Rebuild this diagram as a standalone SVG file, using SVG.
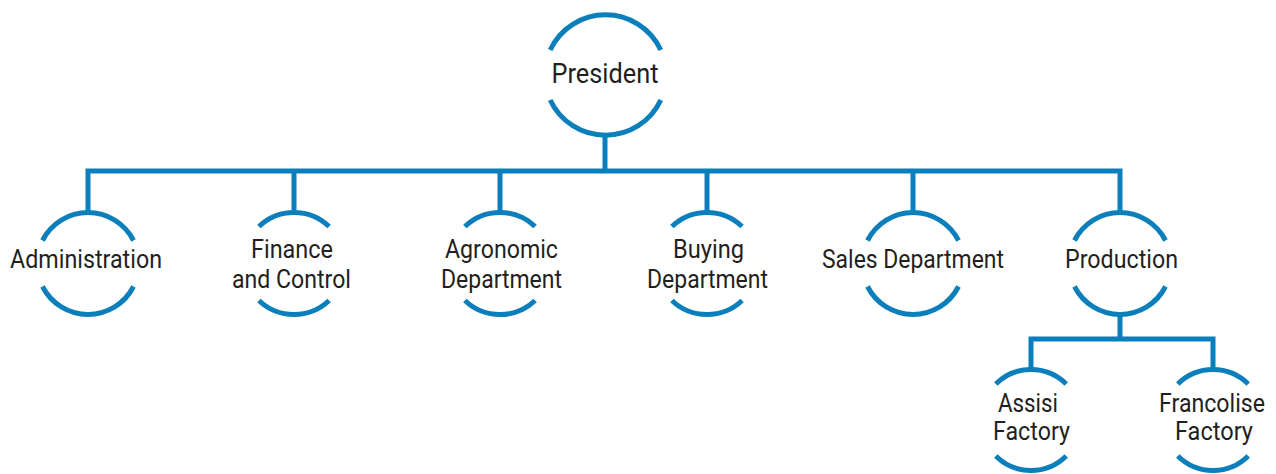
<svg xmlns="http://www.w3.org/2000/svg" width="1276" height="474" viewBox="0 0 1276 474">
<style>
.ring{fill:none;stroke:#0b7fbb;stroke-width:5}
.conn{fill:none;stroke:#0b7fbb;stroke-width:5;stroke-linejoin:miter;stroke-linecap:butt}
text{font-family:Roboto,"Liberation Sans",sans-serif;font-size:25px;fill:#231f20;text-anchor:middle}
.big{font-size:28px}
</style>
<rect width="1276" height="474" fill="#ffffff"/>
<g id="connectors">
<path class="conn" d="M605,136 V171"/>
<path class="conn" d="M88,212 V171 H1120 V212"/>
<path class="conn" d="M294,171 V212"/>
<path class="conn" d="M500,171 V212"/>
<path class="conn" d="M707,171 V212"/>
<path class="conn" d="M913,171 V212"/>
<path class="conn" d="M1120,315 V339"/>
<path class="conn" d="M1031,370 V339 H1213 V370"/>
</g>
<g id="president">
<path class="ring" d="M550.2,50 A61 61 0 0 1 660.8,50 M550.2,100 A61 61 0 0 0 660.8,100"/>
<text class="big" x="605" y="83" textLength="107" lengthAdjust="spacingAndGlyphs">President</text>
</g>
<g id="administration">
<path class="ring" d="M42.5,240.5 A51 51 0 0 1 133.5,240.5 M42.5,286.5 A51 51 0 0 0 133.5,286.5"/>
<text x="86" y="268" textLength="152" lengthAdjust="spacingAndGlyphs">Administration</text>
</g>
<g id="finance">
<path class="ring" d="M258.9,226.5 A51 51 0 0 1 329.1,226.5 M258.9,300.5 A51 51 0 0 0 329.1,300.5"/>
<text x="292" y="258" textLength="82" lengthAdjust="spacingAndGlyphs">Finance</text>
<text x="291.5" y="288" textLength="119" lengthAdjust="spacingAndGlyphs">and Control</text>
</g>
<g id="agronomic">
<path class="ring" d="M464.9,226.5 A51 51 0 0 1 535.1,226.5 M464.9,300.5 A51 51 0 0 0 535.1,300.5"/>
<text x="501.5" y="258" textLength="113" lengthAdjust="spacingAndGlyphs">Agronomic</text>
<text x="501.5" y="288" textLength="121" lengthAdjust="spacingAndGlyphs">Department</text>
</g>
<g id="buying">
<path class="ring" d="M671.9,226.5 A51 51 0 0 1 742.1,226.5 M671.9,300.5 A51 51 0 0 0 742.1,300.5"/>
<text x="708.5" y="258" textLength="71" lengthAdjust="spacingAndGlyphs">Buying</text>
<text x="707.5" y="288" textLength="121" lengthAdjust="spacingAndGlyphs">Department</text>
</g>
<g id="sales">
<path class="ring" d="M867.5,240.5 A51 51 0 0 1 958.5,240.5 M867.5,286.5 A51 51 0 0 0 958.5,286.5"/>
<text x="913" y="268" textLength="182" lengthAdjust="spacingAndGlyphs">Sales Department</text>
</g>
<g id="production">
<path class="ring" d="M1074.5,240.5 A51 51 0 0 1 1165.5,240.5 M1074.5,286.5 A51 51 0 0 0 1165.5,286.5"/>
<text x="1121.5" y="268" textLength="113" lengthAdjust="spacingAndGlyphs">Production</text>
</g>
<g id="assisi">
<path class="ring" d="M995.8,384 A50 50 0 0 1 1066.2,384 M995.8,456 A50 50 0 0 0 1066.2,456"/>
<text x="1028" y="412" textLength="60" lengthAdjust="spacingAndGlyphs">Assisi</text>
<text x="1031.5" y="440" textLength="77" lengthAdjust="spacingAndGlyphs">Factory</text>
</g>
<g id="francolise">
<path class="ring" d="M1177.8,384 A50 50 0 0 1 1248.2,384 M1177.8,456 A50 50 0 0 0 1248.2,456"/>
<text x="1212" y="412" textLength="106" lengthAdjust="spacingAndGlyphs">Francolise</text>
<text x="1214" y="440" textLength="78" lengthAdjust="spacingAndGlyphs">Factory</text>
</g>
</svg>
